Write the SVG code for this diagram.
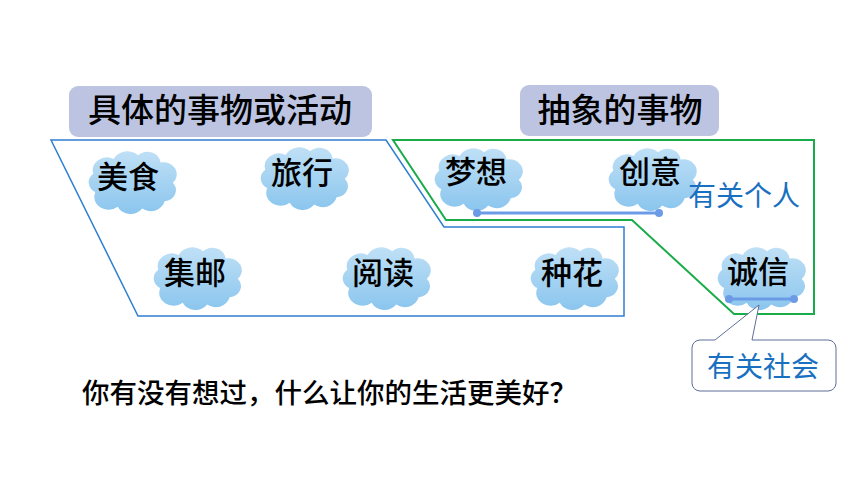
<svg xmlns="http://www.w3.org/2000/svg" width="860" height="484" viewBox="0 0 860 484">
<defs>
<linearGradient id="cg" gradientUnits="userSpaceOnUse" x1="0" y1="-32" x2="0" y2="34">
<stop offset="0" stop-color="#bfe0f6"/>
<stop offset="1" stop-color="#8cc6ee"/>
</linearGradient>
<path id="cloud" d="M -36 12 A 12 12 0 0 1 -38 -8 A 14 14 0 0 1 -18 -24 A 15 15 0 0 1 6 -28 A 13 13 0 0 1 28 -20 A 13 13 0 0 1 40 2 A 12 12 0 0 1 32 22 A 14 14 0 0 1 10 30 A 14 14 0 0 1 -14 28 A 14 14 0 0 1 -36 12 Z" fill="url(#cg)" transform="scale(1.02,0.92)"/>
</defs>
<style>
.t{font-family:"Noto Sans CJK SC","Noto Sans CJK JP",sans-serif;fill:#000;text-anchor:middle;font-weight:500}
.c{font-size:31px}
.h{font-size:33px}
.b{font-family:"Noto Sans CJK SC","Noto Sans CJK JP",sans-serif;fill:#1a70c0;font-size:28px;text-anchor:middle}
.hdr{fill:#bcc4e2}
.lnk{stroke:#6b9be6;stroke-width:3;fill:none}
.dot{fill:#6b9be6}
</style>
<rect width="860" height="484" fill="#fff"/>

<g id="regions" fill="none">
<polygon points="51,140 386,140 444,227 624,227 624,316 138,316" stroke="#2f7fd0" stroke-width="1.5"/>
<polygon points="393,140 814,140 814,314 734,314 632,220 446,220" stroke="#1aab4b" stroke-width="2"/>
</g>

<g id="hdr-concrete">
<rect class="hdr" x="69" y="86" width="303" height="51" rx="9"/>
<text class="t h" x="220" y="122">具体的事物或活动</text>
</g>
<g id="hdr-abstract">
<rect class="hdr" x="520" y="85" width="199" height="51" rx="9"/>
<text class="t h" x="620" y="122">抽象的事物</text>
</g>

<g id="n-meishi"><use href="#cloud" transform="translate(132,181)"/><text class="t c" x="128" y="188">美食</text></g>
<g id="n-lvxing"><use href="#cloud" transform="translate(304,177)"/><text class="t c" x="302" y="184">旅行</text></g>
<g id="n-jiyou"><use href="#cloud" transform="translate(197,277)"/><text class="t c" x="195" y="284">集邮</text></g>
<g id="n-yuedu"><use href="#cloud" transform="translate(386,277)"/><text class="t c" x="383" y="284">阅读</text></g>
<g id="n-zhonghua"><use href="#cloud" transform="translate(574,277)"/><text class="t c" x="572" y="284">种花</text></g>
<g id="n-mengxiang"><use href="#cloud" transform="translate(478,178)"/><text class="t c" x="476" y="183">梦想</text></g>
<g id="n-chuangyi"><use href="#cloud" transform="translate(652,178)"/><text class="t c" x="650" y="183">创意</text></g>
<g id="n-chengxin"><use href="#cloud" transform="translate(761,277)"/><text class="t c" x="758" y="283">诚信</text></g>

<g id="connectors">
<line class="lnk" x1="477" y1="213" x2="659" y2="213"/>
<circle class="dot" cx="477" cy="213" r="4"/>
<circle class="dot" cx="659" cy="213" r="4"/>
<line class="lnk" x1="729" y1="299" x2="794" y2="299"/>
<circle class="dot" cx="729" cy="299" r="4"/>
<circle class="dot" cx="794" cy="299" r="4"/>
</g>

<g id="lbl-personal">
<text class="b" x="744" y="206">有关个人</text>
</g>

<g id="lbl-social">
<path d="M 715 340 L 759 305 L 752 340 L 828 340 A 8 8 0 0 1 836 348 L 836 383 A 8 8 0 0 1 828 391 L 700 391 A 8 8 0 0 1 692 383 L 692 348 A 8 8 0 0 1 700 340 Z" fill="#fff" stroke="#5e6f98" stroke-width="1"/>
<text class="b" x="763" y="377">有关社会</text>
</g>

<g id="question">
<text class="t" style="font-size:27.5px;text-anchor:start" x="82" y="403">你有没有想过，什么让你的生活更美好？</text>
</g>
</svg>
